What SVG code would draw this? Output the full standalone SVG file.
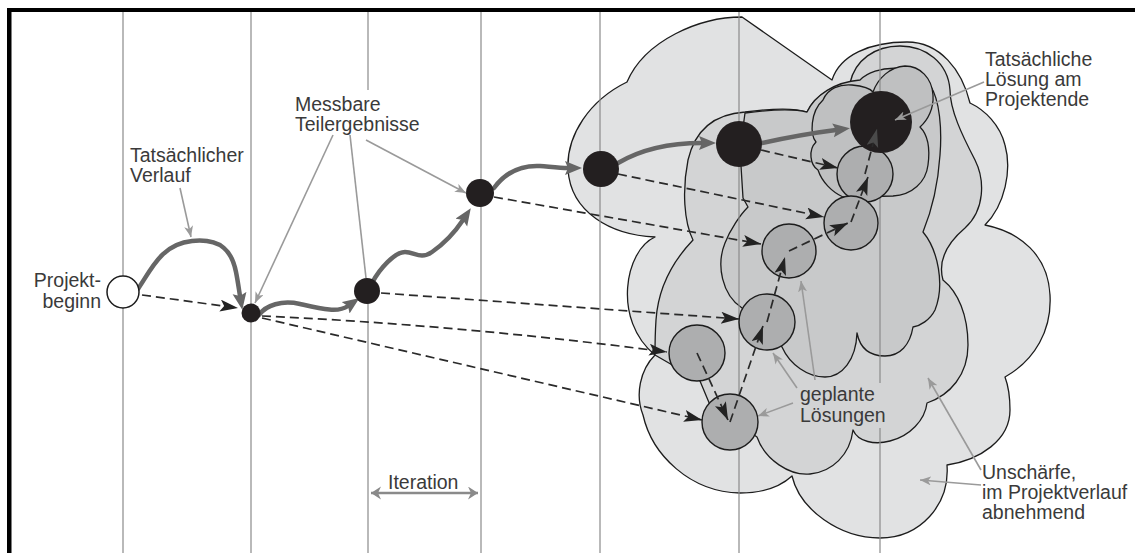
<svg xmlns="http://www.w3.org/2000/svg" width="1135" height="553" viewBox="0 0 1135 553">
<style>
.cl{stroke:#1c1c1c;stroke-width:1.3;stroke-linejoin:round}
.c1{fill:#e1e2e3}.c2{fill:#d3d4d5}.c3{fill:#c8c9ca}.c4{fill:#bfc0c1}
.grid{stroke:#8a8a8a;stroke-width:1.2;fill:none}
.plan{fill:#adaeaf;stroke:#1c1c1c;stroke-width:1.4}
.dot{fill:#231f20}
.dash{fill:none;stroke:#2a2a2a;stroke-width:1.7;stroke-dasharray:9 5}
.course{fill:none;stroke:#666;stroke-width:4.5;stroke-linecap:round}
.ptr{fill:none;stroke:#9a9a9a;stroke-width:1.6}
text{font-family:"Liberation Sans",Arial,Helvetica,sans-serif;font-size:19.5px;fill:#3a3a3a}
</style>
<defs>
<marker id="ah-dash" markerUnits="userSpaceOnUse" markerWidth="20" markerHeight="14" refX="18" refY="6" orient="auto"><path d="M0,0 L18,6 L0,12 L4,6 Z" fill="#222"/></marker>
<marker id="ah-dash2" markerUnits="userSpaceOnUse" markerWidth="20" markerHeight="14" refX="18" refY="6" orient="auto"><path d="M0,0 L18,6 L0,12 L4,6 Z" fill="#4a4a4a"/></marker>
<marker id="ah-course" markerUnits="userSpaceOnUse" markerWidth="20" markerHeight="16" refX="3" refY="7" orient="auto"><path d="M0,0 L17,7 L0,14 L3,7 Z" fill="#666"/></marker>
<marker id="ah-ptr" markerUnits="userSpaceOnUse" markerWidth="12" markerHeight="10" refX="11" refY="4.5" orient="auto"><path d="M0,0 L11,4.5 L0,9 L3,4.5 Z" fill="#9a9a9a"/></marker>
<marker id="ah-it" markerUnits="userSpaceOnUse" markerWidth="12" markerHeight="14" refX="10" refY="6.5" orient="auto-start-reverse"><path d="M0,0 L10,6.5 L0,13 L3,6.5 Z" fill="#8a8a8a"/></marker>
</defs>
<rect x="0" y="0" width="1135" height="553" fill="#fff"/>

<g id="clouds">
<path class="cl c1" d="M655,237 C625,250 612,320 655,355 C640,370 635,395 643,415 C652,455 690,492 740,493 C762,493 780,487 792,476 C800,510 840,538 880,538 C920,538 950,505 947,465 C980,460 1010,440 1010,410 C1010,395 1008,385 1005,377 C1035,360 1052,330 1050,295 C1048,255 1020,232 985,225 C1005,205 1012,170 1005,145 C1000,125 985,110 970,103 C962,70 940,42 907,42 C870,42 840,55 832,80 L742,17 C700,17 645,40 627,82 C590,100 566,135 568,170 C571,212 610,235 655,237 Z"/>
<path class="cl c2" d="M655,355 L700,381 L710,405 L757,437 C765,460 790,476 810,474 C832,472 850,455 853,430 C858,442 875,445 890,441 C910,436 925,420 927,403 C950,395 968,375 968,345 C968,315 958,292 943,280 C938,262 945,245 965,228 C985,210 985,180 975,160 C962,135 950,110 950,90 C948,62 925,46 900,46 C875,46 855,60 850,83 C835,85 815,95 807,112 C795,108 775,108 745,112 C715,114 695,130 688,160 C682,190 684,222 693,240 C672,262 658,290 656,320 C655,335 655,345 655,355 Z"/>
<path class="cl c3" d="M742,308 C722,295 716,265 725,243 C730,230 740,215 748,207 L743,198 L740,150 L745,113 C775,109 795,109 807,112 C815,95 835,82 860,80 C875,65 915,62 930,85 C940,100 942,130 940,155 C938,185 932,210 923,232 C938,250 945,285 935,310 C930,320 920,326 913,327 C910,345 900,356 885,356 C870,356 860,348 857,333 C856,360 842,377 825,377 C808,377 790,365 782,347 Z"/>
<path class="cl c4" d="M823,100 C828,88 840,84 852,85 C862,86 870,88 873,92 C878,78 890,67 905,66 C920,66 932,78 933,95 C934,108 928,120 920,127 C928,135 930,150 928,165 C926,182 912,195 893,196 L843,197 C832,192 822,182 818,170 C810,165 808,150 816,142 C810,135 810,112 823,100 Z"/>
</g>

<g id="grid" class="grid">
<line x1="123" y1="12" x2="123" y2="553"/>
<line x1="251" y1="12" x2="251" y2="553"/>
<line x1="368" y1="12" x2="368" y2="90"/>
<line x1="368" y1="295" x2="368" y2="553"/>
<line x1="481" y1="12" x2="481" y2="553"/>
<line x1="600" y1="12" x2="600" y2="553"/>
<line x1="739" y1="12" x2="739" y2="553"/>
<line x1="880" y1="12" x2="880" y2="383"/>
<line x1="880" y1="428" x2="880" y2="553"/>
</g>

<g id="node-A"><circle class="plan" cx="697" cy="353" r="28"/></g>
<g id="node-B"><circle class="plan" cx="730" cy="422" r="28"/></g>
<g id="node-C"><circle class="plan" cx="767" cy="322" r="28"/></g>
<g id="node-D"><circle class="plan" cx="789" cy="251" r="27"/></g>
<g id="node-F"><circle class="plan" cx="865" cy="174" r="28"/></g>
<g id="node-E"><circle class="plan" cx="851" cy="223" r="27"/></g>

<g id="connectors">
<g class="dash">
<path d="M142,295 L238,308" marker-end="url(#ah-dash)"/>
<path d="M262,316 Q460,325 667,352" marker-end="url(#ah-dash)"/>
<path d="M262,318 L702,420" marker-end="url(#ah-dash)"/>
<path d="M381,293 L739,319" marker-end="url(#ah-dash)"/>
<path d="M494,197 L761,244" marker-end="url(#ah-dash)"/>
<path d="M618,174 L824,217" marker-end="url(#ah-dash)"/>
<path d="M761,150 L838,168" marker-end="url(#ah-dash)"/>
<path d="M697,353 L728,420" marker-end="url(#ah-dash)"/>
<path d="M730,422 L763,326" marker-end="url(#ah-dash)"/>
<path d="M767,322 L785,257" marker-end="url(#ah-dash)"/>
<path d="M789,251 L848,223" marker-end="url(#ah-dash)"/>
<path d="M851,222 L868,177" marker-end="url(#ah-dash)"/>
</g>
<g class="course">
<path d="M138,289 C152,268 162,244 192,241 C222,238 232,252 236,272 C238,282 239,290 240,296" marker-end="url(#ah-course)"/>
<path d="M259,315 C266,305 282,300 300,304 C322,309 338,313 348,306" marker-end="url(#ah-course)"/>
<path d="M372,283 C380,268 395,252 405,252 C415,252 420,260 432,252 C445,243 455,232 463,220" marker-end="url(#ah-course)"/>
<path d="M494,188 C505,173 520,165 540,166 C552,167 560,168 568,168" marker-end="url(#ah-course)"/>
<path d="M618,163 C640,150 670,143 702,143" marker-end="url(#ah-course)"/>
<path d="M762,143 C785,138 812,133 836,130" marker-end="url(#ah-course)"/>
</g>
</g>

<g id="node-start"><circle cx="123" cy="292" r="16" fill="#fff" stroke="#1c1c1c" stroke-width="1.5"/></g>
<g id="node-1"><circle class="dot" cx="251" cy="313" r="9.5"/></g>
<g id="node-2"><circle class="dot" cx="367" cy="291" r="13"/></g>
<g id="node-3"><circle class="dot" cx="480" cy="193" r="14"/></g>
<g id="node-4"><circle class="dot" cx="601" cy="169" r="18"/></g>
<g id="node-5"><circle class="dot" cx="739" cy="144" r="23"/></g>
<g id="node-end"><circle class="dot" cx="881" cy="122" r="31"/></g>

<g id="connectors-top">
<path class="dash" d="M865,174 L877,129" marker-end="url(#ah-dash2)"/>
</g>

<g id="pointers" class="ptr">
<path d="M180,188 L191,237" marker-end="url(#ah-ptr)"/>
<path d="M333,135 L255,303" marker-end="url(#ah-ptr)"/>
<path d="M350,135 L366,278"/>
<path d="M366,140 L466,193" marker-end="url(#ah-ptr)"/>
<path d="M984,82 L895,120" marker-end="url(#ah-ptr)"/>
<path d="M793,403 L758,416" marker-end="url(#ah-ptr)"/>
<path d="M797,388 L773,353" marker-end="url(#ah-ptr)"/>
<path d="M815,380 L801,281" marker-end="url(#ah-ptr)"/>
<path d="M981,470 L928,378" marker-end="url(#ah-ptr)"/>
<path d="M981,485 L920,480" marker-end="url(#ah-ptr)"/>
<path d="M371,493 L478,493" stroke="#8a8a8a" stroke-width="2.5" marker-start="url(#ah-it)" marker-end="url(#ah-it)"/>
</g>

<g id="labels">
<text x="101" y="287" text-anchor="end">Projekt-</text>
<text x="101" y="308" text-anchor="end">beginn</text>
<text x="130" y="162">Tatsächlicher</text>
<text x="130" y="182">Verlauf</text>
<text x="295" y="111">Messbare</text>
<text x="295" y="131">Teilergebnisse</text>
<text x="388" y="489">Iteration</text>
<text x="985" y="66">Tatsächliche</text>
<text x="985" y="86">Lösung am</text>
<text x="985" y="106">Projektende</text>
<text x="800" y="401">geplante</text>
<text x="800" y="422">Lösungen</text>
<text x="982" y="479">Unschärfe,</text>
<text x="982" y="499">im Projektverlauf</text>
<text x="982" y="519">abnehmend</text>
</g>

<g id="frame" fill="#000">
<rect x="7" y="8" width="1128" height="4"/>
<rect x="7" y="8" width="4.5" height="545"/>
</g>
</svg>
